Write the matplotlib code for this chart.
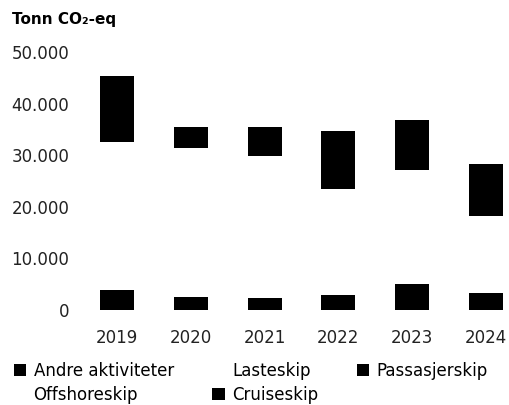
import matplotlib
matplotlib.use("Agg")
import matplotlib.pyplot as plt
from matplotlib.patches import Patch
from matplotlib.ticker import FuncFormatter
import numpy as np

years = ["2019", "2020", "2021", "2022", "2023", "2024"]
# Tonn CO2-eq per skipstype (lest av figuren)
andre = [3800, 2600, 2300, 3000, 5000, 3350]
lasteskip = [19800, 18200, 17700, 15200, 15700, 10950]
offshoreskip = [9000, 10500, 9800, 5200, 6400, 3900]
passasjerskip = [4100, 3900, 4100, 4200, 4000, 3900]
cruiseskip = [8700, 300, 1600, 7000, 5800, 6100]

series = [
    ("Andre aktiviteter", andre, "black"),
    ("Lasteskip", lasteskip, "white"),
    ("Offshoreskip", offshoreskip, "white"),
    ("Passasjerskip", passasjerskip, "black"),
    ("Cruiseskip", cruiseskip, "black"),
]
# matplotlib fyller legenden kolonnevis
legend_order = ["Andre aktiviteter", "Offshoreskip", "Lasteskip", "Cruiseskip", "Passasjerskip"]

plt.rcParams["font.family"] = ["DejaVu Sans"]

fig = plt.figure(figsize=(5.09, 4.05), dpi=100)
ax = fig.add_axes([0.158, 0.2346, 0.8397, 0.637])

x = np.arange(len(years))
bottom = np.zeros(len(years))
colors = {}
for name, vals, col in series:
    ax.bar(x, vals, width=0.46, bottom=bottom, color=col, linewidth=0)
    bottom += np.array(vals)
    colors[name] = col

ax.set_ylim(0, 50000)
ax.set_xlim(-0.5, 5.3)
ax.set_yticks(range(0, 50001, 10000))
ax.yaxis.set_major_formatter(FuncFormatter(lambda v, p: f"{int(v):,}".replace(",", ".")))
ax.set_xticks(x)
ax.set_xticklabels(years)
ax.tick_params(axis="both", length=0, labelsize=12, labelcolor="#222222")
ax.tick_params(axis="y", pad=8)
ax.tick_params(axis="x", pad=14)
for s in ax.spines.values():
    s.set_visible(False)

fig.text(0.024, 0.953, "Tonn CO₂-eq", fontsize=11, fontweight="bold", va="center", ha="left")

handles = [Patch(facecolor=colors[n], edgecolor="none") for n in legend_order]
fig.legend(handles, legend_order, ncol=3, frameon=False, loc="lower left",
           bbox_to_anchor=(0.025, 0.0), fontsize=12, handlelength=0.75, handleheight=0.75,
           handletextpad=0.45, columnspacing=2.3, labelspacing=0.4, borderpad=0.05,
           borderaxespad=0.0)

fig.savefig("out.png", dpi=100)
